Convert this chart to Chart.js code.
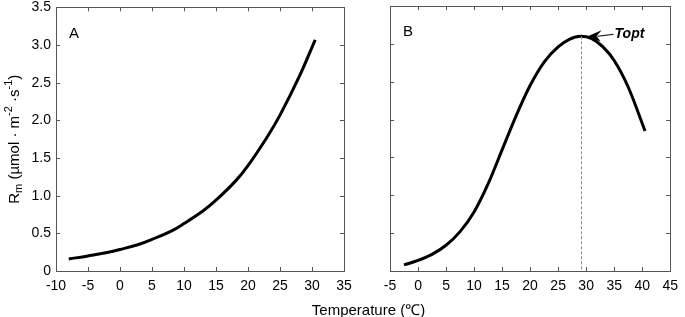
<!DOCTYPE html>
<html>
<head>
<meta charset="utf-8">
<script src="https://cdn.jsdelivr.net/npm/chart.js@4"></script>
<style>
  body { margin: 0; background: #fff; }
  #wrap { position: relative; width: 685px; height: 317px; overflow: hidden; }
  canvas { position: absolute; top: -6px; }
  #xtitle { position: absolute; left: 58px; width: 621px; top: 299px; text-align: center;
            font: 15px "Liberation Sans", Arial, sans-serif; color: #000; }
</style>
</head>
<body>
<div id="wrap">
  <canvas id="chartA" width="360" height="323" style="left:0"></canvas>
  <canvas id="chartB" width="345" height="323" style="left:340px"></canvas>
  <div id="xtitle">Temperature (℃)</div>
</div>
<script>
// panel A: exponential response
const tempA = [-8, -5, -2, 0, 3, 5, 8, 10, 13, 15, 18, 20, 23, 25, 28, 30.5];
const rmA   = [0.16, 0.20, 0.245, 0.285, 0.355, 0.42, 0.53, 0.63, 0.80, 0.94, 1.19, 1.40, 1.78, 2.07, 2.58, 3.07];

// panel B: peaked response
const tempB = [-2.5, 0, 2.5, 5, 7.5, 10, 12.5, 15, 17.5, 20, 22.5, 25, 27, 29, 31, 33, 35, 37.5, 40.5];
const rmB   = [0.08, 0.14, 0.22, 0.34, 0.52, 0.78, 1.15, 1.60, 2.05, 2.45, 2.76, 2.96, 3.06, 3.10, 3.07, 2.96, 2.78, 2.43, 1.85];

const yTicks = [0, 0.5, 1.0, 1.5, 2.0, 2.5, 3.0, 3.5];
const toptX = 29;
const toptY = 3.10;

const FONT = '"Liberation Sans", Arial, sans-serif';

function pts(xs, ys) { return xs.map((x, i) => ({ x: x, y: ys[i] })); }

// frame + inward ticks on all four sides
const framePlugin = {
  id: 'frame',
  afterDraw(chart) {
    const { ctx, chartArea: a, scales } = chart;
    ctx.save();
    ctx.strokeStyle = '#555';
    ctx.lineWidth = 1;
    ctx.strokeRect(Math.round(a.left) + 0.5, Math.round(a.top) + 0.5,
                   Math.round(a.right - a.left), Math.round(a.bottom - a.top));
    ctx.beginPath();
    scales.x.ticks.forEach(t => {
      const px = Math.round(scales.x.getPixelForValue(t.value)) + 0.5;
      ctx.moveTo(px, a.bottom); ctx.lineTo(px, a.bottom - 4);
      ctx.moveTo(px, a.top); ctx.lineTo(px, a.top + 4);
    });
    scales.y.ticks.forEach(t => {
      const py = Math.round(scales.y.getPixelForValue(t.value)) + 0.5;
      ctx.moveTo(a.left, py); ctx.lineTo(a.left + 4, py);
      ctx.moveTo(a.right, py); ctx.lineTo(a.right - 4, py);
    });
    ctx.stroke();
    // panel letter
    ctx.fillStyle = '#000';
    ctx.font = '15px ' + FONT;
    ctx.textBaseline = 'middle';
    ctx.fillText(chart.options.plugins.frame.letter, a.left + 13, a.top + 26);
    ctx.restore();
  }
};

function baseOptions(xmin, xmax, showY, leftW, letter) {
  return {
    responsive: false,
    animation: false,
    layout: { padding: { left: 0, right: showY ? 16 : 8, top: showY ? 0 : 12, bottom: 0 } },
    plugins: { legend: { display: false }, tooltip: { enabled: false }, frame: { letter: letter } },
    elements: { point: { radius: 0 } },
    scales: {
      x: {
        type: 'linear', min: xmin, max: xmax,
        grid: { display: false, drawTicks: false, tickLength: 0 }, border: { display: false },
        ticks: { stepSize: 5, color: '#000', font: { family: FONT, size: 14 }, padding: 7, maxRotation: 0 },
        afterFit: s => { s.height = 46; }
      },
      y: {
        min: 0, max: 3.5,
        grid: { display: false, drawTicks: false, tickLength: 0 }, border: { display: false },
        afterBuildTicks: s => { s.ticks = yTicks.map(v => ({ value: v })); },
        ticks: {
          display: showY, color: '#000', font: { family: FONT, size: 14 }, padding: 5,
          callback: v => v === 0 ? '0' : v.toFixed(1)
        },
        afterFit: s => { s.width = leftW; }
      }
    }
  };
}

// y title with subscript / superscripts
const yTitlePlugin = {
  id: 'ytitle',
  afterDraw(chart) {
    const { ctx, chartArea: a } = chart;
    const parts = [
      ['R', 15, 0], ['m', 11, 4], [' (\u00b5mol \u00b7 m', 15, 0], ['-2', 11, -6],
      [' \u00b7s', 15, 0], ['-1', 11, -6], [')', 15, 0]
    ];
    ctx.save();
    let total = 0;
    parts.forEach(p => { ctx.font = p[1] + 'px ' + FONT; total += ctx.measureText(p[0]).width; });
    ctx.translate(15, (a.top + a.bottom) / 2);
    ctx.rotate(-Math.PI / 2);
    ctx.fillStyle = '#000';
    ctx.textBaseline = 'middle';
    let x = -total / 2;
    parts.forEach(p => {
      ctx.font = p[1] + 'px ' + FONT;
      ctx.fillText(p[0], x, p[2]);
      x += ctx.measureText(p[0]).width;
    });
    ctx.restore();
  }
};

// dashed Topt line and arrow label
const toptPlugin = {
  id: 'topt',
  afterDatasetsDraw(chart) {
    const { ctx, scales } = chart;
    const px = scales.x.getPixelForValue(toptX);
    const py = scales.y.getPixelForValue(toptY);
    const py0 = scales.y.getPixelForValue(0);
    ctx.save();
    ctx.strokeStyle = '#888';
    ctx.lineWidth = 1;
    ctx.setLineDash([3, 2]);
    ctx.beginPath();
    ctx.moveTo(Math.round(px) + 0.5, py);
    ctx.lineTo(Math.round(px) + 0.5, py0);
    ctx.stroke();
    ctx.setLineDash([]);
    // arrow
    const tipX = px + 5, tipY = py + 1;
    ctx.strokeStyle = '#000';
    ctx.fillStyle = '#000';
    ctx.beginPath();
    ctx.moveTo(tipX + 12, tipY - 1);
    ctx.lineTo(tipX + 28, tipY - 3);
    ctx.stroke();
    ctx.beginPath();
    ctx.moveTo(tipX, tipY);
    ctx.lineTo(tipX + 16, tipY - 7);
    ctx.lineTo(tipX + 11, tipY - 1);
    ctx.lineTo(tipX + 15, tipY + 4);
    ctx.closePath();
    ctx.fill();
    ctx.font = 'italic bold 14px ' + FONT;
    ctx.textBaseline = 'middle';
    ctx.fillText('Topt', tipX + 29, tipY - 3);
    ctx.restore();
  }
};

new Chart(document.getElementById('chartA'), {
  type: 'line',
  data: { datasets: [{ data: pts(tempA, rmA), borderColor: '#000', borderWidth: 3, fill: false, tension: 0.4 }] },
  options: baseOptions(-10, 35, true, 56, 'A'),
  plugins: [framePlugin, yTitlePlugin]
});

new Chart(document.getElementById('chartB'), {
  type: 'line',
  data: { datasets: [{ data: pts(tempB, rmB), borderColor: '#000', borderWidth: 3, fill: false, cubicInterpolationMode: 'monotone' }] },
  options: baseOptions(-5, 45, false, 50, 'B'),
  plugins: [framePlugin, toptPlugin]
});
</script>
</body>
</html>
